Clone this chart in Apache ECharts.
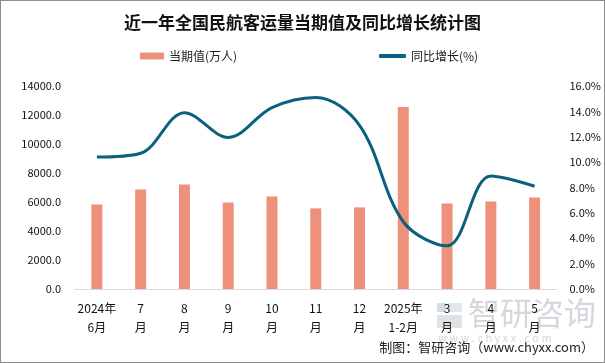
<!DOCTYPE html>
<html><head><meta charset="utf-8">
<script src="https://cdn.jsdelivr.net/npm/echarts@6/dist/echarts.min.js"></script>
<style>html,body{margin:0;padding:0;background:#fff}#c{width:603px;height:361px;border:1px solid #8c8c8c}</style>
</head><body><div id="c"></div>
<script>
const categories = ['2024年\n6月','7\n月','8\n月','9\n月','10\n月','11\n月','12\n月','2025年\n1-2月','3\n月','4\n月','5\n月'];
const volume = [5830, 6860, 7200, 5970, 6380, 5560, 5630, 12560, 5900, 6040, 6310];
const growth = [10.4, 10.7, 13.9, 11.95, 14.3, 15.1, 12.9, 5.3, 3.4, 8.9, 8.1];
const leftTicks = [0, 2000, 4000, 6000, 8000, 10000, 12000, 14000];
const rightTicks = [0, 2, 4, 6, 8, 10, 12, 14, 16];
const font = '"Noto Sans CJK SC", sans-serif';
const chart = echarts.init(document.getElementById('c'));
chart.setOption({
  animation: false,
  textStyle: {fontFamily: font},
  title: {text: '近一年全国民航客运量当期值及同比增长统计图', left: 'center', top: 8,
    textStyle: {fontSize: 17, fontWeight: 'bold', color: '#111', fontFamily: font}},
  legend: [
    {top: 44, left: 134, itemWidth: 24, itemHeight: 7, textStyle: {fontSize: 12, color: '#222'},
      data: [{name: '当期值(万人)', icon: 'rect'}]},
    {top: 44, left: 373, itemWidth: 27, itemHeight: 4, textStyle: {fontSize: 12, color: '#222'},
      data: [{name: '同比增长(%)', icon: 'roundRect'}]}
  ],
  grid: {left: 74, right: 46, top: 85, bottom: 73},
  xAxis: {type: 'category', data: categories,
    axisLine: {lineStyle: {color: '#d9d9d9'}}, axisTick: {show: false},
    axisLabel: {color: '#111', fontSize: 12, lineHeight: 19, margin: 10, interval: 0}},
  yAxis: [
    {type: 'value', min: leftTicks[0], max: leftTicks[leftTicks.length-1], interval: 2000,
      splitLine: {show: false}, axisLine: {show: false}, axisTick: {show: false},
      axisLabel: {color: '#111', fontSize: 11, margin: 14, formatter: v => v.toFixed(1)}},
    {type: 'value', min: rightTicks[0], max: rightTicks[rightTicks.length-1], interval: 2,
      splitLine: {show: false}, axisLine: {show: false}, axisTick: {show: false},
      axisLabel: {color: '#111', fontSize: 11, margin: 13, formatter: v => v.toFixed(1) + '%'}}
  ],
  series: [
    {name: '当期值(万人)', type: 'bar', data: volume, barWidth: 11, itemStyle: {color: '#EE917A'}},
    {name: '同比增长(%)', type: 'line', yAxisIndex: 1, data: growth, smooth: 0.35, symbol: 'none',
      lineStyle: {color: '#0B5F7F', width: 3}, itemStyle: {color: '#0B5F7F'}, z: 3}
  ],
  graphic: [
    {type: 'rect', left: 436, top: 302, shape: {width: 9, height: 9}, style: {fill: '#d6dce3'}, z: -1},
    {type: 'rect', left: 448, top: 302, shape: {width: 13, height: 9}, style: {fill: '#e3e7ec'}, z: -1},
    {type: 'rect', left: 436, top: 314, shape: {width: 25, height: 13}, style: {fill: '#dfe3e8'}, z: -1},
    {type: 'text', left: 467, top: 296, z: -1, style: {text: '智研咨询', fontSize: 32, fill: '#d4d7db', fontFamily: font}},
    {type: 'text', left: 437, top: 331, z: -1, style: {text: 'w w w . c h y x x . c o m', fontSize: 11, fill: '#d4d7db', fontFamily: font}},
    {type: 'text', right: 10, top: 340, style: {text: '制图：智研咨询（www.chyxx.com）', fontSize: 13, fill: '#222', fontFamily: font}}
  ]
});
</script></body></html>
